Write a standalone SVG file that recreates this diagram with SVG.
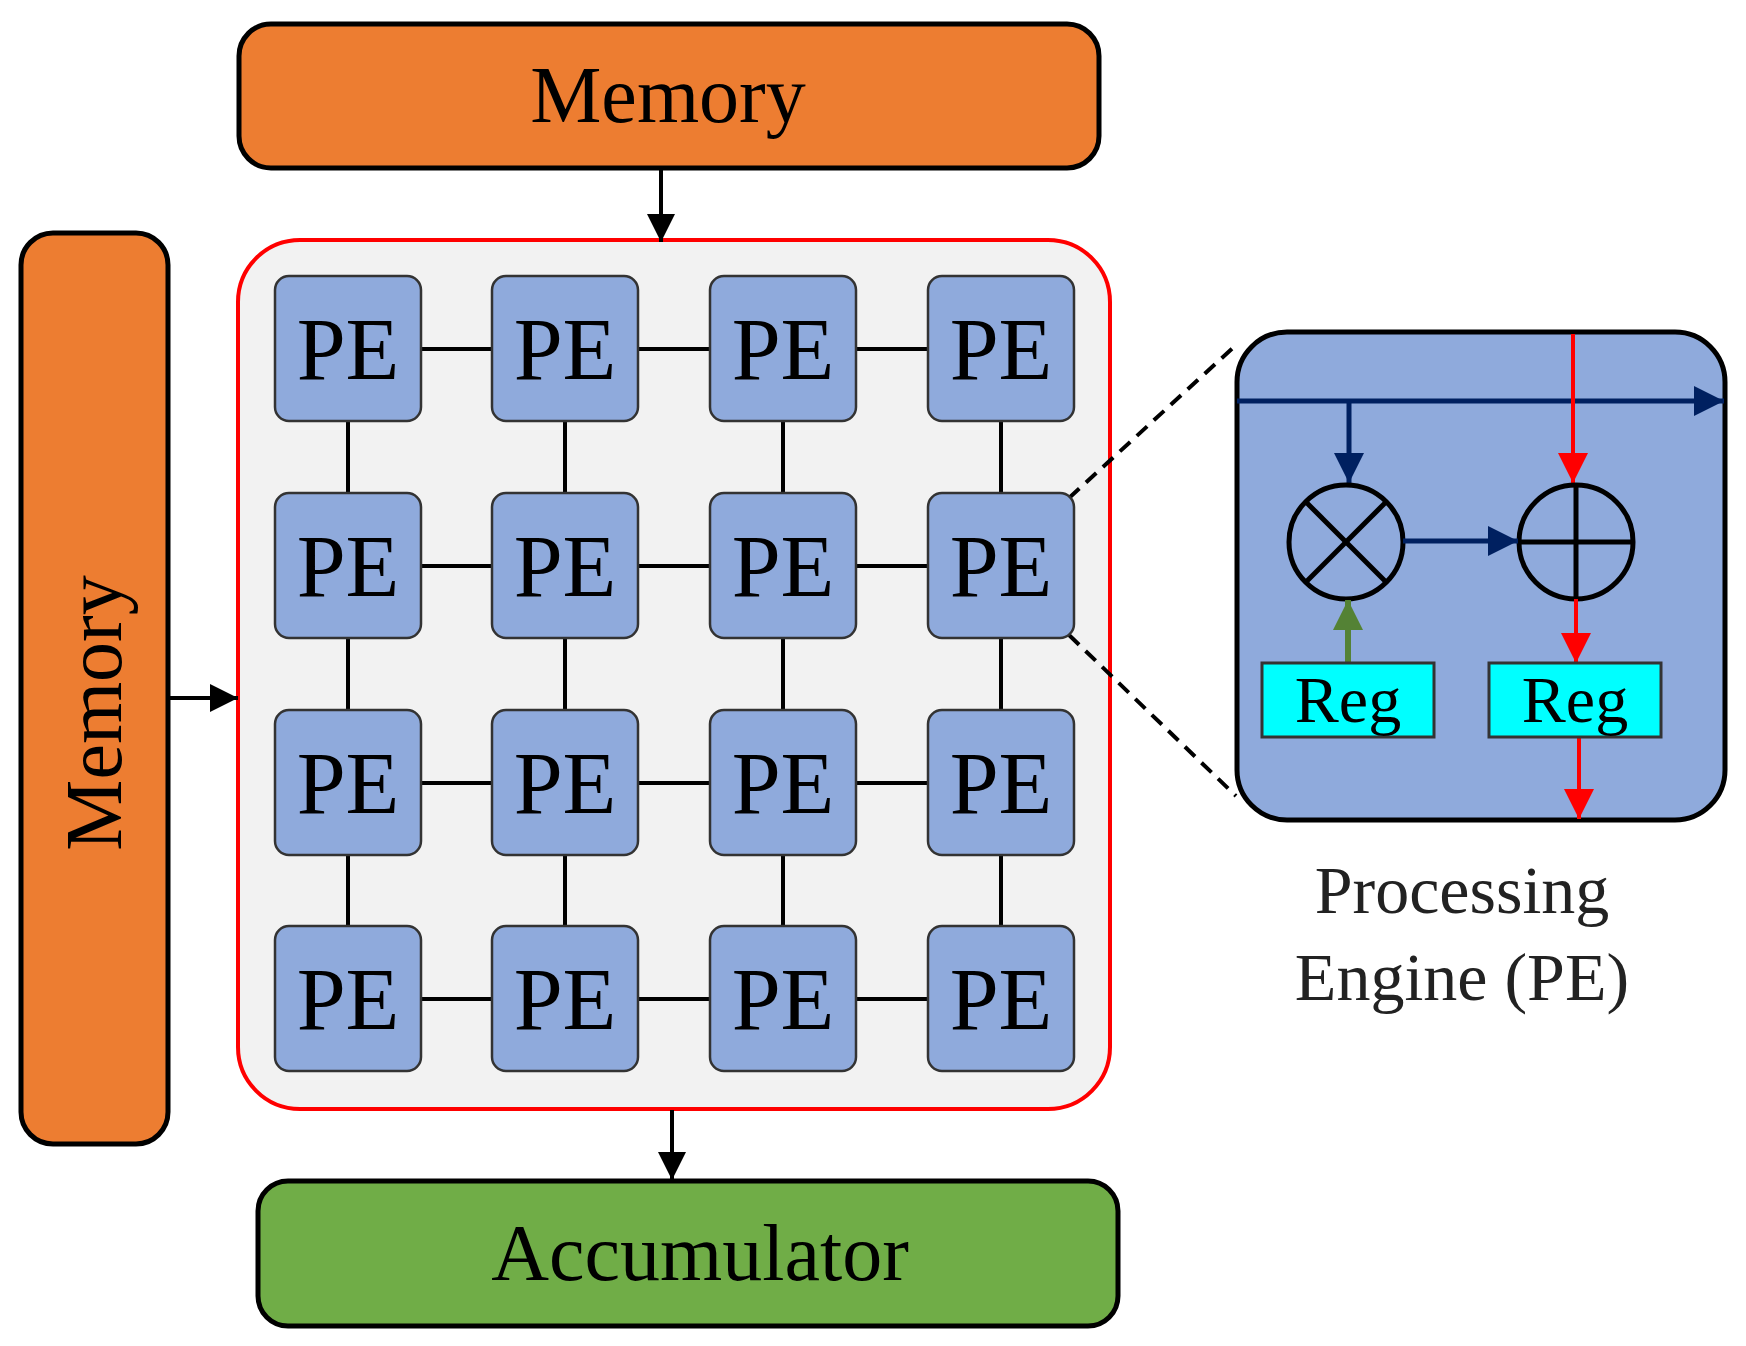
<svg xmlns="http://www.w3.org/2000/svg" width="1746" height="1346" viewBox="0 0 1746 1346">
<defs>
<marker id="ak" markerWidth="8" markerHeight="8" refX="7" refY="4" orient="auto" markerUnits="userSpaceOnUse" viewBox="0 0 8 8"><path d="M0,0L8,4L0,8z" fill="#000"/></marker>
<marker id="ab" viewBox="0 0 10 10" refX="10" refY="5" markerWidth="30" markerHeight="30" orient="auto" markerUnits="userSpaceOnUse"><path d="M0,0L10,5L0,10z" fill="#002060"/></marker>
<marker id="ar" viewBox="0 0 10 10" refX="10" refY="5" markerWidth="30" markerHeight="30" orient="auto" markerUnits="userSpaceOnUse"><path d="M0,0L10,5L0,10z" fill="#FF0000"/></marker>
<marker id="ag" viewBox="0 0 10 10" refX="10" refY="5" markerWidth="30" markerHeight="30" orient="auto" markerUnits="userSpaceOnUse"><path d="M0,0L10,5L0,10z" fill="#548235"/></marker>
<marker id="abk" viewBox="0 0 10 10" refX="10" refY="5" markerWidth="28" markerHeight="28" orient="auto" markerUnits="userSpaceOnUse"><path d="M0,0L10,5L0,10z" fill="#000"/></marker>
</defs>
<style>
text{font-family:"Liberation Serif",serif;text-anchor:middle}
.mem{fill:#ED7D31;stroke:#000;stroke-width:5}
.pe{fill:#8FAADC;stroke:#333;stroke-width:2.5}
.pet{font-size:88px;fill:#000}
.link{stroke:#000;stroke-width:4}
.reg{fill:#00FFFF;stroke:#333;stroke-width:3}
</style>
<rect width="1746" height="1346" fill="#fff"/>
<g id="memory-top"><rect class="mem" x="239" y="24" width="860" height="144" rx="32"/><text x="668" y="122" font-size="80">Memory</text></g>
<g id="memory-left"><rect class="mem" x="21" y="233" width="147" height="911" rx="32"/><text transform="translate(121,713) rotate(-90)" font-size="80">Memory</text></g>
<g id="array"><rect x="238" y="240" width="872" height="869" rx="62" fill="#F2F2F2" stroke="#FF0000" stroke-width="4"/></g>
<g id="connectors">
<line class="link" x1="421" y1="349" x2="928" y2="349"/>
<line class="link" x1="421" y1="566" x2="928" y2="566"/>
<line class="link" x1="421" y1="783" x2="928" y2="783"/>
<line class="link" x1="421" y1="999" x2="928" y2="999"/>
<line class="link" x1="348" y1="421" x2="348" y2="926"/>
<line class="link" x1="565" y1="421" x2="565" y2="926"/>
<line class="link" x1="783" y1="421" x2="783" y2="926"/>
<line class="link" x1="1001" y1="421" x2="1001" y2="926"/>
<line class="link" x1="661" y1="169" x2="661" y2="242" marker-end="url(#abk)"/>
<line class="link" x1="169" y1="698" x2="238" y2="698" marker-end="url(#abk)"/>
<line class="link" x1="672" y1="1110" x2="672" y2="1180" marker-end="url(#abk)"/>
<line x1="1069" y1="498" x2="1236" y2="345" stroke="#000" stroke-width="4" stroke-dasharray="14,9"/>
<line x1="1069" y1="635" x2="1236" y2="796" stroke="#000" stroke-width="4" stroke-dasharray="14,9"/>
</g>
<g id="pes">
<g id="pe11"><rect class="pe" x="275" y="276" width="146" height="145" rx="14"/><text class="pet" x="348" y="379">PE</text></g>
<g id="pe12"><rect class="pe" x="492" y="276" width="146" height="145" rx="14"/><text class="pet" x="565" y="379">PE</text></g>
<g id="pe13"><rect class="pe" x="710" y="276" width="146" height="145" rx="14"/><text class="pet" x="783" y="379">PE</text></g>
<g id="pe14"><rect class="pe" x="928" y="276" width="146" height="145" rx="14"/><text class="pet" x="1001" y="379">PE</text></g>
<g id="pe21"><rect class="pe" x="275" y="493" width="146" height="145" rx="14"/><text class="pet" x="348" y="596">PE</text></g>
<g id="pe22"><rect class="pe" x="492" y="493" width="146" height="145" rx="14"/><text class="pet" x="565" y="596">PE</text></g>
<g id="pe23"><rect class="pe" x="710" y="493" width="146" height="145" rx="14"/><text class="pet" x="783" y="596">PE</text></g>
<g id="pe24"><rect class="pe" x="928" y="493" width="146" height="145" rx="14"/><text class="pet" x="1001" y="596">PE</text></g>
<g id="pe31"><rect class="pe" x="275" y="710" width="146" height="145" rx="14"/><text class="pet" x="348" y="813">PE</text></g>
<g id="pe32"><rect class="pe" x="492" y="710" width="146" height="145" rx="14"/><text class="pet" x="565" y="813">PE</text></g>
<g id="pe33"><rect class="pe" x="710" y="710" width="146" height="145" rx="14"/><text class="pet" x="783" y="813">PE</text></g>
<g id="pe34"><rect class="pe" x="928" y="710" width="146" height="145" rx="14"/><text class="pet" x="1001" y="813">PE</text></g>
<g id="pe41"><rect class="pe" x="275" y="926" width="146" height="145" rx="14"/><text class="pet" x="348" y="1029">PE</text></g>
<g id="pe42"><rect class="pe" x="492" y="926" width="146" height="145" rx="14"/><text class="pet" x="565" y="1029">PE</text></g>
<g id="pe43"><rect class="pe" x="710" y="926" width="146" height="145" rx="14"/><text class="pet" x="783" y="1029">PE</text></g>
<g id="pe44"><rect class="pe" x="928" y="926" width="146" height="145" rx="14"/><text class="pet" x="1001" y="1029">PE</text></g>
</g>
<g id="accumulator"><rect x="258" y="1181" width="860" height="145" rx="30" fill="#70AD47" stroke="#000" stroke-width="5"/><text x="700" y="1280" font-size="80">Accumulator</text></g>
<g id="pe-detail">
<rect x="1237" y="332" width="488" height="488" rx="50" fill="#8FAADC" stroke="#000" stroke-width="5"/>
<line x1="1237" y1="401" x2="1724" y2="401" stroke="#002060" stroke-width="5" marker-end="url(#ab)"/>
<line x1="1349" y1="401" x2="1349" y2="483" stroke="#002060" stroke-width="5" marker-end="url(#ab)"/>
<line x1="1573" y1="334" x2="1573" y2="483" stroke="#FF0000" stroke-width="4" marker-end="url(#ar)"/>
<circle cx="1346" cy="542" r="57" fill="none" stroke="#000" stroke-width="5"/>
<line x1="1306" y1="502" x2="1386" y2="582" stroke="#000" stroke-width="5"/>
<line x1="1386" y1="502" x2="1306" y2="582" stroke="#000" stroke-width="5"/>
<circle cx="1576" cy="542" r="57" fill="none" stroke="#000" stroke-width="5"/>
<line x1="1519" y1="542" x2="1633" y2="542" stroke="#000" stroke-width="5"/>
<line x1="1576" y1="485" x2="1576" y2="599" stroke="#000" stroke-width="5"/>
<line x1="1403" y1="541" x2="1518" y2="541" stroke="#002060" stroke-width="5" marker-end="url(#ab)"/>
<line x1="1348" y1="664" x2="1348" y2="600" stroke="#548235" stroke-width="6" marker-end="url(#ag)"/>
<line x1="1576" y1="599" x2="1576" y2="663" stroke="#FF0000" stroke-width="4" marker-end="url(#ar)"/>
<line x1="1579" y1="737" x2="1579" y2="819" stroke="#FF0000" stroke-width="4" marker-end="url(#ar)"/>
<g id="reg1"><rect class="reg" x="1262" y="663" width="172" height="74"/><text x="1348" y="722" font-size="66">Reg</text></g>
<g id="reg2"><rect class="reg" x="1489" y="663" width="172" height="74"/><text x="1575" y="722" font-size="66">Reg</text></g>
</g>
<g id="caption" fill="#222"><text x="1462" y="913" font-size="68">Processing</text><text x="1462" y="1000" font-size="68">Engine (PE)</text></g>
</svg>
